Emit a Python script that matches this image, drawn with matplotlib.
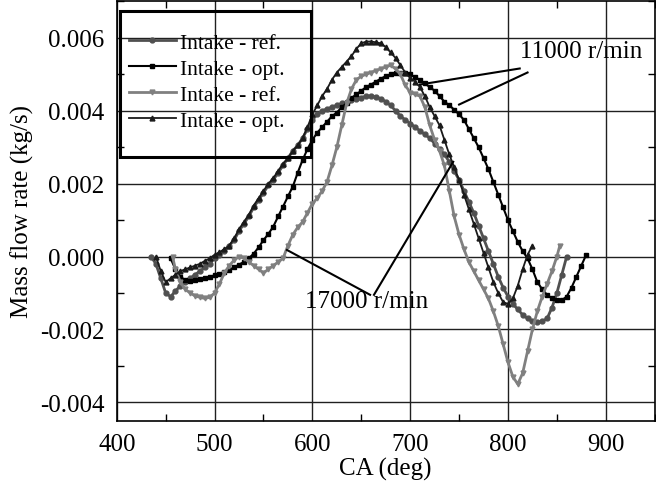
import matplotlib.pyplot as plt
from matplotlib.patches import Rectangle
from matplotlib.ticker import MultipleLocator
import numpy as np

plt.rcParams['font.family'] = ['Liberation Serif', 'DejaVu Serif']

# 11000 r/min, reference (dark gray, circles)
ca_ref_11 = [435, 440, 445, 450, 455, 460, 465, 470, 475, 480, 485, 490, 495, 500,
             505, 510, 515, 520, 525, 530, 535, 540, 545, 550, 555, 560, 565, 570,
             575, 580, 585, 590, 595, 600, 605, 610, 615, 620, 625, 630, 635, 640,
             645, 650, 655, 660, 665, 670, 675, 680, 685, 690, 695, 700, 705, 710,
             715, 720, 725, 730, 735, 740, 745, 750, 755, 760, 765, 770, 775, 780,
             785, 790, 795, 800, 805, 810, 815, 820, 825, 830, 835, 840, 845, 850,
             855, 860]
mf_ref_11 = [0.00, -0.20, -0.60, -1.00, -1.10, -0.95, -0.80, -0.70, -0.60, -0.50,
             -0.40, -0.30, -0.20, -0.05, 0.05, 0.15, 0.30, 0.45, 0.70, 0.90, 1.10,
             1.35, 1.55, 1.75, 1.95, 2.10, 2.30, 2.50, 2.70, 2.90, 3.05, 3.25, 3.50,
             3.75, 3.90, 4.00, 4.05, 4.10, 4.15, 4.20, 4.25, 4.30, 4.33, 4.36, 4.40,
             4.40, 4.38, 4.33, 4.25, 4.15, 4.00, 3.85, 3.75, 3.65, 3.55, 3.45, 3.35,
             3.25, 3.10, 2.95, 2.80, 2.60, 2.35, 2.10, 1.80, 1.50, 1.20, 0.85, 0.50,
             0.15, -0.20, -0.55, -0.85, -1.10, -1.30, -1.45, -1.60, -1.70, -1.78,
             -1.80, -1.78, -1.70, -1.40, -1.00, -0.50, 0.00]

# 11000 r/min, optimised (black, squares)
ca_opt_11 = [455, 460, 465, 470, 475, 480, 485, 490, 495, 500, 505, 510, 515, 520,
             525, 530, 535, 540, 545, 550, 555, 560, 565, 570, 575, 580, 585, 590,
             595, 600, 605, 610, 615, 620, 625, 630, 635, 640, 645, 650, 655, 660,
             665, 670, 675, 680, 685, 690, 695, 700, 705, 710, 715, 720, 725, 730,
             735, 740, 745, 750, 755, 760, 765, 770, 775, 780, 785, 790, 795, 800,
             805, 810, 815, 820, 825, 830, 835, 840, 845, 850, 855, 860, 865, 870,
             875, 880]
mf_opt_11 = [-0.05, -0.35, -0.55, -0.65, -0.68, -0.65, -0.62, -0.58, -0.55, -0.52,
             -0.48, -0.42, -0.36, -0.30, -0.22, -0.15, -0.05, 0.08, 0.25, 0.45, 0.62,
             0.82, 1.10, 1.37, 1.65, 1.92, 2.30, 2.65, 2.95, 3.20, 3.40, 3.55, 3.70,
             3.85, 3.95, 4.10, 4.20, 4.35, 4.45, 4.55, 4.65, 4.72, 4.80, 4.88, 4.95,
             5.00, 5.05, 5.05, 5.05, 5.00, 4.92, 4.85, 4.75, 4.65, 4.55, 4.40, 4.25,
             4.15, 4.03, 3.90, 3.75, 3.50, 3.25, 3.00, 2.70, 2.40, 2.05, 1.70, 1.35,
             1.00, 0.70, 0.40, 0.15, -0.05, -0.35, -0.70, -0.90, -1.05, -1.15, -1.20,
             -1.20, -1.10, -0.85, -0.55, -0.25, 0.05]

# 17000 r/min, reference (light gray, down triangles)
ca_ref_17 = [457, 460, 465, 470, 475, 480, 485, 490, 495, 500, 505, 510, 515, 520,
             525, 530, 535, 540, 545, 550, 555, 560, 565, 570, 575, 580, 585, 590,
             595, 600, 605, 610, 615, 620, 625, 630, 635, 640, 645, 650, 655, 660,
             665, 670, 675, 680, 685, 690, 695, 700, 705, 710, 715, 720, 725, 730,
             735, 740, 745, 750, 755, 760, 765, 770, 775, 780, 785, 790, 795, 800,
             805, 810, 815, 820, 825, 830, 835, 840, 845, 850, 853]
mf_ref_17 = [0.00, -0.35, -0.70, -0.90, -1.00, -1.08, -1.12, -1.15, -1.12, -1.00,
             -0.75, -0.45, -0.25, -0.10, 0.00, -0.05, -0.15, -0.25, -0.35, -0.45,
             -0.35, -0.25, -0.15, -0.05, 0.30, 0.60, 0.80, 0.95, 1.20, 1.45, 1.60,
             1.80, 2.05, 2.50, 3.00, 3.60, 4.20, 4.60, 4.85, 4.95, 5.00, 5.05, 5.10,
             5.15, 5.20, 5.25, 5.15, 5.00, 4.70, 4.50, 4.45, 4.40, 4.10, 3.60, 3.20,
             2.90, 2.50, 1.80, 1.10, 0.60, 0.20, -0.15, -0.40, -0.65, -0.90, -1.15,
             -1.50, -1.90, -2.40, -2.90, -3.30, -3.50, -3.20, -2.60, -2.00, -1.50,
             -1.10, -0.75, -0.40, 0.00, 0.30]

# 17000 r/min, optimised (black, up triangles)
ca_opt_17 = [440, 445, 450, 455, 460, 465, 470, 475, 480, 485, 490, 495, 500, 505,
             510, 515, 520, 525, 530, 535, 540, 545, 550, 555, 560, 565, 570, 575,
             580, 585, 590, 595, 600, 605, 610, 615, 620, 625, 630, 635, 640, 645,
             650, 655, 660, 665, 670, 675, 680, 685, 690, 695, 700, 705, 710, 715,
             720, 725, 730, 735, 740, 745, 750, 755, 760, 765, 770, 775, 780, 785,
             790, 795, 800, 805, 810, 815, 820, 825]
mf_opt_17 = [0.00, -0.40, -0.70, -0.60, -0.50, -0.40, -0.35, -0.30, -0.25, -0.20,
             -0.12, -0.05, 0.05, 0.12, 0.20, 0.30, 0.50, 0.75, 0.95, 1.15, 1.40,
             1.60, 1.80, 2.00, 2.15, 2.35, 2.55, 2.70, 2.90, 3.05, 3.25, 3.55, 3.90,
             4.15, 4.40, 4.60, 4.85, 5.05, 5.20, 5.35, 5.50, 5.70, 5.85, 5.90, 5.90,
             5.88, 5.85, 5.75, 5.60, 5.45, 5.25, 5.05, 4.90, 4.80, 4.65, 4.40, 4.10,
             3.85, 3.60, 3.20, 2.80, 2.45, 2.10, 1.70, 1.30, 0.90, 0.50, 0.10, -0.30,
             -0.70, -1.00, -1.25, -1.30, -1.15, -0.80, -0.35, 0.05, 0.30]

fig = plt.figure(figsize=(6.56, 4.89), dpi=100)
ax = fig.add_axes([0.178, 0.138, 0.820, 0.857])

ax.plot(ca_ref_11, np.array(mf_ref_11) / 1000, color='#505050', lw=2, marker='o',
        ms=3.5, label='Intake - ref.')
ax.plot(ca_opt_11, np.array(mf_opt_11) / 1000, color='black', lw=1.5, marker='s',
        ms=2.5, label='Intake - opt.')
ax.plot(ca_ref_17, np.array(mf_ref_17) / 1000, color='#808080', lw=2, marker='v',
        ms=3.5, label='Intake - ref.')
ax.plot(ca_opt_17, np.array(mf_opt_17) / 1000, color='#1a1a1a', lw=1.3, marker='^',
        ms=3.5, label='Intake - opt.')

ax.set_xlim(400, 950)
ax.set_ylim(-0.0045, 0.007)
ax.xaxis.set_major_locator(MultipleLocator(100))
ax.xaxis.set_minor_locator(MultipleLocator(50))
ax.yaxis.set_major_locator(MultipleLocator(0.002))
ax.yaxis.set_minor_locator(MultipleLocator(0.001))
ax.yaxis.set_major_formatter(plt.FormatStrFormatter('%.3f'))
ax.grid(True, which='major', color='#202020', lw=1)
ax.tick_params(which='both', direction='in', top=True, right=True, labelsize=18)
ax.tick_params(which='major', length=0, pad=9)
ax.tick_params(which='minor', length=5, width=1)
for s in ax.spines.values():
    s.set_linewidth(1.2)

ax.set_xlabel('CA (deg)', fontsize=18, labelpad=1)
ax.set_ylabel('Mass flow rate (kg/s)', fontsize=18, labelpad=4)

# legend frame
ax.add_patch(Rectangle((0.006, 0.629), 0.355, 0.349, transform=ax.transAxes,
                       fill=False, lw=2.2, ec='black', zorder=5))
ax.legend(loc='upper left', bbox_to_anchor=(0.022, 0.925), frameon=False,
          fontsize=15.5, handlelength=2.2, handletextpad=0.2, labelspacing=0.27,
          borderpad=0, borderaxespad=0)

# annotations
ax.text(812, 0.00563, '11000 r/min', fontsize=18, va='center', ha='left')
ax.plot([812, 710], [0.00516, 0.00472], color='black', lw=1.5)
ax.plot([820, 750], [0.00505, 0.00417], color='black', lw=1.5)
ax.text(592, -0.00122, '17000 r/min', fontsize=18, va='center', ha='left')
ax.plot([574, 659], [0.00018, -0.00105], color='black', lw=1.5)
ax.plot([744, 663], [0.0026, -0.00105], color='black', lw=1.5)

fig.savefig('out.png', dpi=100)
